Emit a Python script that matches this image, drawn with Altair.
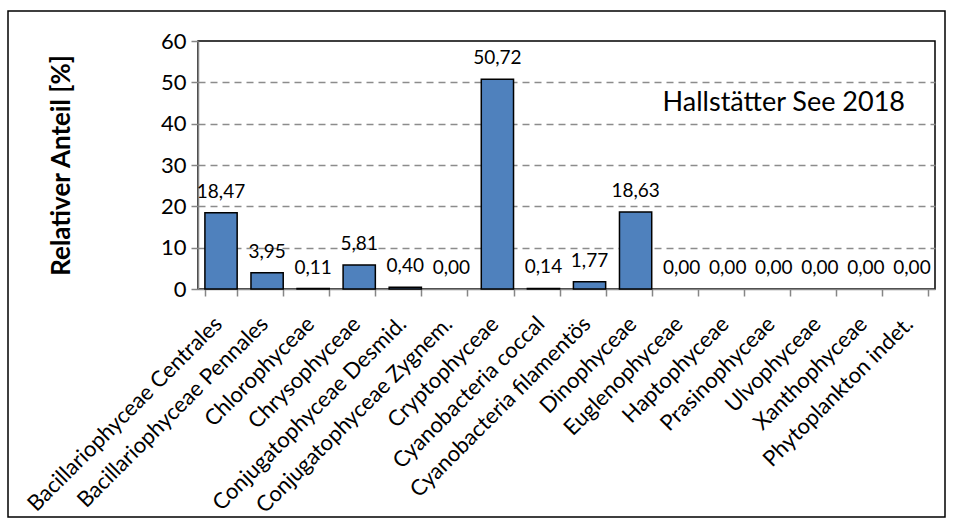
import altair as alt
import pandas as pd

# Phytoplankton classes and their share of total biomass (%)
classes = [
    "Bacillariophyceae Centrales",
    "Bacillariophyceae Pennales",
    "Chlorophyceae",
    "Chrysophyceae",
    "Conjugatophyceae Desmid.",
    "Conjugatophyceae Zygnem.",
    "Cryptophyceae",
    "Cyanobacteria coccal",
    "Cyanobacteria filamentös",
    "Dinophyceae",
    "Euglenophyceae",
    "Haptophyceae",
    "Prasinophyceae",
    "Ulvophyceae",
    "Xanthophyceae",
    "Phytoplankton indet.",
]
shares = [18.47, 3.95, 0.11, 5.81, 0.40, 0.00, 50.72, 0.14, 1.77, 18.63,
          0.00, 0.00, 0.00, 0.00, 0.00, 0.00]
y_ticks = [0, 10, 20, 30, 40, 50, 60]
lake_label = "Hallstätter See 2018"

df = pd.DataFrame({"Klasse": classes, "Anteil": shares})
df["Label"] = [f"{v:.2f}".replace(".", ",") for v in shares]

FONT = "Lato"
W, H = 737, 248

x_enc = alt.X(
    "Klasse:N",
    sort=classes,
    scale=alt.Scale(paddingInner=0.3, paddingOuter=0.15),
    axis=alt.Axis(
        title=None,
        labelAngle=-45,
        labelAlign="right",
        labelBaseline="middle",
        labelFontSize=22,
        labelFont=FONT,
        labelColor="black",
        labelPadding=24,
        labelOffset=-3,
        labelLimit=400,
        tickBand="extent",
        tickSize=7,
        tickColor="#868686",
        tickWidth=1.5,
        domainColor="#868686",
        domainWidth=1.5,
    ),
)

y_enc = alt.Y(
    "Anteil:Q",
    scale=alt.Scale(domain=[0, 60], nice=False),
    axis=alt.Axis(
        title="Relativer Anteil [%]",
        titleFont=FONT,
        titleFontSize=26,
        titleFontWeight="bold",
        titleColor="black",
        titleX=-137,
        titleY=H / 2,
        titleBaseline="middle",
        values=y_ticks,
        labelFontSize=22,
        labelFont=FONT,
        labelColor="black",
        labelPadding=5,
        tickSize=7,
        tickColor="#868686",
        tickWidth=1.5,
        domainColor="#868686",
        domainWidth=1.5,
        gridColor="#8c8c8c",
        gridDash=[7, 5],
        gridWidth=1.3,
        gridOpacity={
            "condition": {"test": "datum.value === 0 || datum.value === 60", "value": 0},
            "value": 1,
        },
    ),
)

base = alt.Chart(df)

bars = base.mark_bar(color="#4F81BD", stroke="black").encode(
    x=x_enc,
    y=y_enc,
    strokeWidth=alt.condition(alt.datum.Anteil > 0, alt.value(1.5), alt.value(0)),
)

values = base.mark_text(
    baseline="alphabetic", dy=-15, fontSize=19, font=FONT, color="black"
).encode(
    x=alt.X("Klasse:N", sort=classes),
    y="Anteil:Q",
    text="Label:N",
)

annotation = alt.Chart(pd.DataFrame({"t": [lake_label]})).mark_text(
    align="right", baseline="middle", fontSize=27, font=FONT, color="black"
).encode(
    x=alt.value(707),
    y=alt.value(62),
    text="t:N",
)

# outer border around the whole figure
frame = alt.Chart(pd.DataFrame({"k": [0]})).mark_rect(
    fill=None, stroke="black", strokeWidth=1.5
).encode(
    x=alt.value(-190),
    x2=alt.value(747),
    y=alt.value(-30),
    y2=alt.value(476),
)

chart = (
    alt.layer(frame, bars, values, annotation)
    .properties(
        width=W,
        height=H,
        autosize=alt.AutoSizeParams(type="none"),
        padding={"left": 198, "top": 41, "right": 18, "bottom": 236},
        background="white",
    )
    .configure_view(stroke="black", strokeWidth=1.5)
)

chart.save("out.html", embed_options={"renderer": "svg", "actions": False})
